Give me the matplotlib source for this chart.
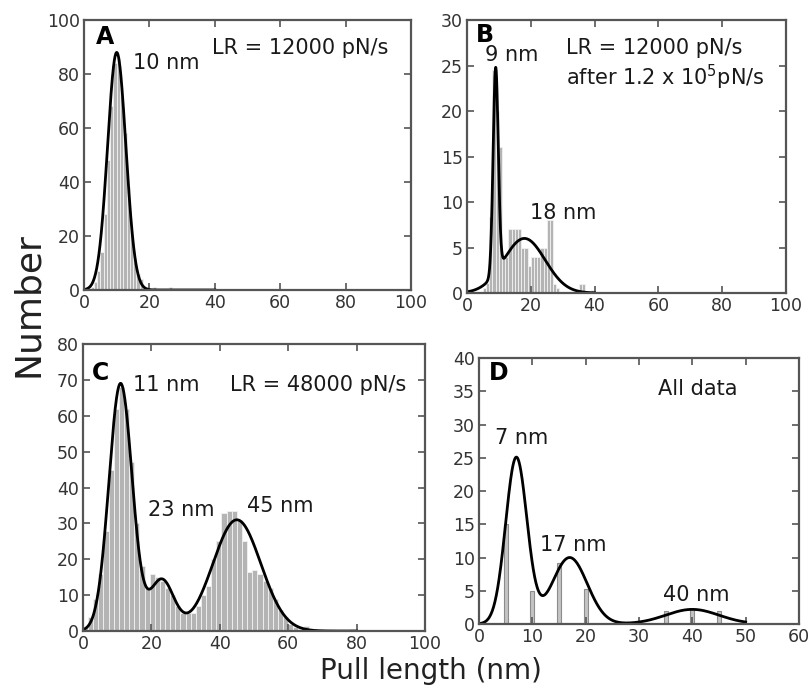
import numpy as np
import matplotlib.pyplot as plt

plt.rcParams['font.family'] = ['DejaVu Sans']

# --- histogram counts (bin left edges, bin width) ---
# A: LR = 12000 pN/s, 1 nm bins
a_edges = [2, 3, 4, 5, 6, 7, 8, 9, 10, 11, 12, 13, 14, 15, 16, 17, 18, 19, 21, 25, 26, 29, 32]
a_counts = [1, 3, 7, 14, 28, 48, 68, 84, 86, 72, 58, 38, 22, 12, 6, 4, 1, 1, 1, 0.5, 1, 0.5, 0.5]
a_width = 1.0

# B: LR = 12000 pN/s after 1.2e5 pN/s, 1 nm bins
b_edges = [5, 6, 7, 8, 9, 10, 11, 12, 13, 14, 15, 16, 17, 18, 19, 20, 21, 22, 23, 24, 25, 26, 27, 28, 35, 36, 39]
b_counts = [0.5, 1.1, 8.4, 24.5, 20, 16, 4, 4, 7, 7, 7, 7, 5, 5, 3, 4, 4, 4, 5, 5, 8, 8, 1, 0.5, 1, 1, 0.3]
b_width = 1.0

# C: LR = 48000 pN/s, 1.5 nm bins
c_edges = [0, 1.5, 3, 4.5, 6, 7.5, 9, 10.5, 12, 13.5, 15, 16.5, 18, 19.5, 21, 22.5, 24, 25.5,
           27, 28.5, 30, 31.5, 33, 34.5, 36, 37.5, 39, 40.5, 42, 43.5, 45, 46.5, 48, 49.5,
           51, 52.5, 54, 55.5, 57, 58.5, 60, 61.5, 63, 64.5, 66, 67.5, 78]
c_counts = [1, 4, 9, 16, 28, 45, 62, 68, 62, 47, 30, 18, 12, 16, 15, 14, 12, 10,
            7, 5, 5, 5, 7, 10, 12.5, 20, 25, 33, 33.5, 33.5, 31, 25, 16.5, 17,
            16, 14, 12, 9, 6, 4, 2, 1, 0.5, 1.5, 0.5, 0.3, 0.5]
c_width = 1.5

# D: all data
d_centers = [5, 10, 15, 20, 35, 40, 45]
d_counts = [15, 5, 9.2, 5.2, 1.9, 2.2, 1.9]
d_width = 0.8

# --- Gaussian fits: (centre nm, amplitude, sigma) ---
a_fit = [(10, 88, 2.8)]
b_fit = [(9, 22.5, 0.8), (18, 6, 6.5)]
c_fit = [(11, 69, 3.4), (23, 14.2, 3.5), (45, 31, 7)]
d_fit = [(7, 25, 2.0), (17, 10, 3.3), (40, 2.2, 5.0)]

LBL = 15     # peak / condition labels
PANEL = 17   # panel letters


def fit_curve(x, peaks):
    y = np.zeros_like(x)
    for mu, amp, sig in peaks:
        y += amp * np.exp(-(x - mu) ** 2 / (2 * sig ** 2))
    return y


def style_axes(ax, xmax, xstep, ymax, ystep):
    ax.set_xlim(0, xmax)
    ax.set_ylim(0, ymax)
    ax.set_xticks(np.arange(0, xmax + 1, xstep))
    ax.set_yticks(np.arange(0, ymax + 1, ystep))
    ax.tick_params(direction='in', top=True, right=True, length=5, width=1.2,
                   labelsize=12.5, labelcolor='#333333', color='#555555', pad=3)
    for sp in ax.spines.values():
        sp.set_color('#555555')
        sp.set_linewidth(1.6)


def label(ax, x, y, s, **kw):
    ax.text(x, y, s, transform=ax.transAxes, fontsize=LBL, va='center', color='#1a1a1a', **kw)


fig = plt.figure(figsize=(8.11, 6.88), dpi=100)
axA = fig.add_axes([0.1036, 0.5785, 0.4032, 0.3924])
axB = fig.add_axes([0.5758, 0.5741, 0.3933, 0.3968])
axC = fig.add_axes([0.1023, 0.0828, 0.4217, 0.4172])
axD = fig.add_axes([0.5906, 0.0930, 0.3946, 0.3866])

bar_kw = dict(color='#b4b4b4', edgecolor='#f2f2f2', linewidth=0.6, align='edge')

# panel A
axA.bar(a_edges, a_counts, width=a_width, **bar_kw)
xa = np.linspace(0, 40, 600)
axA.plot(xa, fit_curve(xa, a_fit), color='black', lw=2)
style_axes(axA, 100, 20, 100, 20)
axA.text(0.035, 0.937, 'A', transform=axA.transAxes, fontsize=PANEL, fontweight='bold', va='center')
label(axA, 0.15, 0.84, '10 nm')
label(axA, 0.39, 0.896, 'LR = 12000 pN/s')

# panel B
axB.bar(b_edges, b_counts, width=b_width, **bar_kw)
xb = np.linspace(0, 40, 800)
axB.plot(xb, fit_curve(xb, b_fit), color='black', lw=2)
style_axes(axB, 100, 20, 30, 5)
axB.text(0.028, 0.945, 'B', transform=axB.transAxes, fontsize=PANEL, fontweight='bold', va='center')
label(axB, 0.056, 0.872, '9 nm')
label(axB, 0.31, 0.897, 'LR = 12000 pN/s')
label(axB, 0.31, 0.791, r'after 1.2 x 10$^5$pN/s')
label(axB, 0.197, 0.293, '18 nm')

# panel C
axC.bar(c_edges, c_counts, width=c_width, **bar_kw)
xc = np.linspace(0, 80, 800)
axC.plot(xc, fit_curve(xc, c_fit), color='black', lw=2)
style_axes(axC, 100, 20, 80, 10)
axC.text(0.027, 0.899, 'C', transform=axC.transAxes, fontsize=PANEL, fontweight='bold', va='center')
label(axC, 0.146, 0.857, '11 nm')
label(axC, 0.43, 0.857, 'LR = 48000 pN/s')
label(axC, 0.19, 0.42, '23 nm')
label(axC, 0.479, 0.435, '45 nm')

# panel D
axD.bar(d_centers, d_counts, width=d_width, color='#c4c4c4', edgecolor='#8c8c8c', linewidth=0.8)
xd = np.linspace(0, 50, 600)
axD.plot(xd, fit_curve(xd, d_fit), color='black', lw=2)
style_axes(axD, 60, 10, 40, 5)
axD.text(0.03, 0.944, 'D', transform=axD.transAxes, fontsize=PANEL, fontweight='bold', va='center')
label(axD, 0.56, 0.883, 'All data')
label(axD, 0.05, 0.70, '7 nm')
label(axD, 0.19, 0.297, '17 nm')
label(axD, 0.575, 0.109, '40 nm')

fig.text(0.531, 0.013, 'Pull length (nm)', ha='center', va='baseline', fontsize=20, color='#222222')
fig.text(0.034, 0.557, 'Number', ha='center', va='center', rotation=90, fontsize=26, color='#222222')

fig.savefig('out.png', dpi=100)
